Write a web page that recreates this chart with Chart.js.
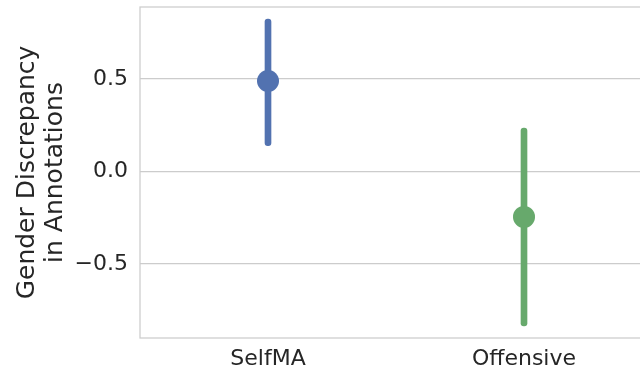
<!DOCTYPE html>
<html>
<head>
<meta charset="utf-8">
<script src="https://cdn.jsdelivr.net/npm/chart.js@4.4.1/dist/chart.umd.min.js"></script>
<style>
  html, body { margin: 0; padding: 0; background: #fff; overflow: hidden; }
  #wrap { position: relative; width: 652px; height: 369px; }
</style>
</head>
<body>
<div id="wrap"><canvas id="chart"></canvas></div>
<script>
"use strict";

// Point estimates and confidence intervals
const categories = ["SelfMA", "Offensive"];
const means      = [0.49, -0.245];
const ciLow      = [0.14, -0.835];
const ciHigh     = [0.825, 0.235];
const yTicks     = [-0.5, 0.0, 0.5];
const colors     = ["#5272b0", "#67a96c"];

const TEXT  = "#262626";
const GRID  = "#cccccc";
const FONT  = "'DejaVu Sans', sans-serif";

// Draws the plot frame (seaborn whitegrid spines)
const framePlugin = {
  id: "frame",
  beforeDatasetsDraw(chart) {
    const { ctx, chartArea: a } = chart;
    ctx.save();
    ctx.strokeStyle = GRID;
    ctx.lineWidth = 1.25;
    ctx.strokeRect(a.left, a.top, a.right - a.left, a.bottom - a.top);
    ctx.restore();
  },
};

new Chart(document.getElementById("chart"), {
  data: {
    labels: categories,
    datasets: [
      {
        type: "bar",
        data: categories.map((_, i) => [ciLow[i], ciHigh[i]]),
        backgroundColor: colors,
        barThickness: 6,
        borderRadius: 3,
        borderSkipped: false,
        order: 2,
      },
      {
        type: "line",
        data: means,
        showLine: false,
        pointRadius: 11,
        pointHoverRadius: 11,
        pointBackgroundColor: colors,
        pointBorderWidth: 0,
        order: 1,
      },
    ],
  },
  options: {
    responsive: true,
    maintainAspectRatio: false,
    animation: false,
    layout: { autoPadding: false, padding: { top: 7, right: 0, left: 0, bottom: 0 } },
    plugins: { legend: { display: false }, tooltip: { enabled: false } },
    scales: {
      x: {
        offset: true,
        grid: { display: false, drawTicks: false },
        border: { display: false },
        ticks: { color: TEXT, font: { family: FONT, size: 22 }, padding: 8 },
        afterFit(scale) {
          scale.height = 31;
          scale.paddingLeft = 0;
          scale.paddingRight = 0;
        },
      },
      y: {
        min: -0.9,
        max: 0.89,
        afterBuildTicks(scale) { scale.ticks = yTicks.map((v) => ({ value: v })); },
        grid: { color: GRID, lineWidth: 1.25, drawTicks: false },
        border: { display: false },
        ticks: {
          color: TEXT,
          font: { family: FONT, size: 22 },
          padding: 12,
          callback: (v) => Number(v).toFixed(1).replace("-", "\u2212"),
        },
        title: {
          display: true,
          text: ["Gender Discrepancy", "in Annotations"],
          color: TEXT,
          font: { family: FONT, size: 25, lineHeight: 1.12 },
          padding: { top: 13, bottom: 0 },
        },
        afterFit(scale) {
          scale.width = 140;
          scale.paddingTop = 0;
          scale.paddingBottom = 0;
        },
      },
    },
  },
  plugins: [framePlugin],
});
</script>
</body>
</html>
